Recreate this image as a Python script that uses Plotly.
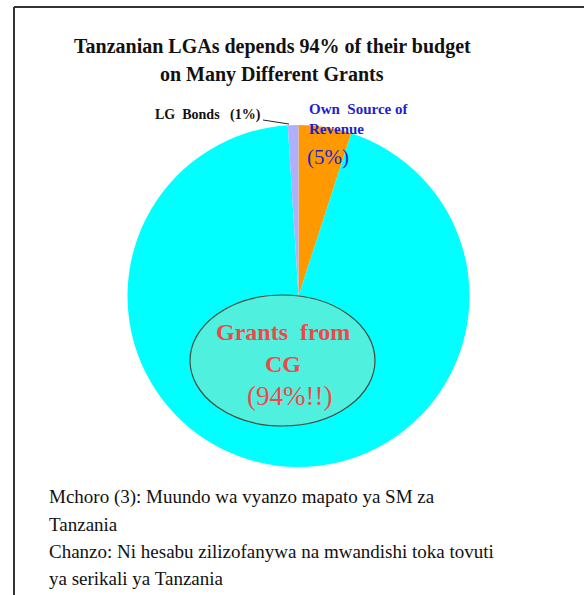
import plotly.graph_objects as go

W, H = 584, 595

# data
labels = ["Own Source of Revenue", "Grants from CG", "LG Bonds"]
values = [5, 94, 1]
colors = ["#FF9900", "#00FFFF", "#B0B0FA"]

title_lines = ["Tanzanian LGAs depends 94% of their budget", "on Many Different Grants"]
footer_lines = [
    "Mchoro (3): Muundo wa vyanzo mapato ya SM za",
    "Tanzania",
    "Chanzo: Ni hesabu zilizofanywa na mwandishi toka tovuti",
    "ya serikali ya Tanzania",
]

SERIF = "Liberation Serif, Times New Roman, serif"


def px(x, y):
    # pixel position -> paper coords
    return x / W, 1 - y / H


fig = go.Figure(
    go.Pie(
        labels=labels,
        values=values,
        marker=dict(colors=colors, line=dict(width=0)),
        sort=False,
        direction="clockwise",
        rotation=0,
        textinfo="none",
        hoverinfo="label+percent",
        domain=dict(x=[(298.5 - 171) / W, (298.5 + 171) / W],
                    y=[1 - (296 + 171) / H, 1 - (296 - 171) / H]),
        showlegend=False,
    )
)

ann = []

# title
for i, t in enumerate(title_lines):
    x, y = px(272, 47 + i * 27)
    ann.append(dict(x=x, y=y, text="<b>" + t + "</b>", showarrow=False,
                    xanchor="center", yanchor="middle",
                    font=dict(family=SERIF, size=20, color="#111111")))

# slice labels
x, y = px(153, 115)
ann.append(dict(x=x, y=y, text="<b>LG  Bonds   (1%)</b>", showarrow=False,
                xanchor="left", yanchor="middle",
                font=dict(family=SERIF, size=14, color="#111111")))
for i, t in enumerate(["Own  Source of", "Revenue"]):
    x, y = px(307, 109 + i * 20)
    ann.append(dict(x=x, y=y, text="<b>" + t + "</b>", showarrow=False,
                    xanchor="left", yanchor="middle",
                    font=dict(family=SERIF, size=15, color="#1F1FD0")))
x, y = px(305, 157)
ann.append(dict(x=x, y=y, text="(5%)", showarrow=False,
                xanchor="left", yanchor="middle",
                font=dict(family=SERIF, size=21, color="#1F1FD0")))

# text inside the ellipse
inner = [("<b>Grants  from</b>", 24), ("<b>CG</b>", 24), ("(94%!!)", 27)]
for i, (t, s) in enumerate(inner):
    x, y = px(283 if i < 2 else 289, 332 + i * 32)
    ann.append(dict(x=x, y=y, text=t, showarrow=False,
                    xanchor="center", yanchor="middle",
                    font=dict(family=SERIF, size=s, color="#F04848")))

# footer caption
for i, t in enumerate(footer_lines):
    x, y = px(47, 497 + i * 27)
    ann.append(dict(x=x, y=y, text=t, showarrow=False,
                    xanchor="left", yanchor="middle",
                    font=dict(family=SERIF, size=19, color="#111111")))

shapes = [
    # frame (left and top edges)
    dict(type="line", xref="paper", yref="paper",
         x0=14 / W, y0=1 - 7 / H, x1=14 / W, y1=0,
         line=dict(color="#333333", width=2)),
    dict(type="line", xref="paper", yref="paper",
         x0=14 / W, y0=1 - 7 / H, x1=1, y1=1 - 7 / H,
         line=dict(color="#333333", width=2)),
    # leader line for LG Bonds
    dict(type="line", xref="paper", yref="paper",
         x0=263 / W, y0=1 - 120 / H, x1=289 / W, y1=1 - 124 / H,
         line=dict(color="#222222", width=1)),
    # ellipse over the grants slice
    dict(type="circle", xref="paper", yref="paper",
         x0=190 / W, x1=375 / W, y0=1 - 426 / H, y1=1 - 295 / H,
         fillcolor="#50F0DF", line=dict(color="#4A4A3A", width=1.2)),
]

fig.update_layout(
    width=W,
    height=H,
    margin=dict(l=0, r=0, t=0, b=0),
    paper_bgcolor="white",
    plot_bgcolor="white",
    annotations=ann,
    shapes=shapes,
)

# drop the default body margin so the figure sits at the page corner
fig.write_html("out.html", config={"displayModeBar": False},
               post_script="document.body.style.margin='0';")
